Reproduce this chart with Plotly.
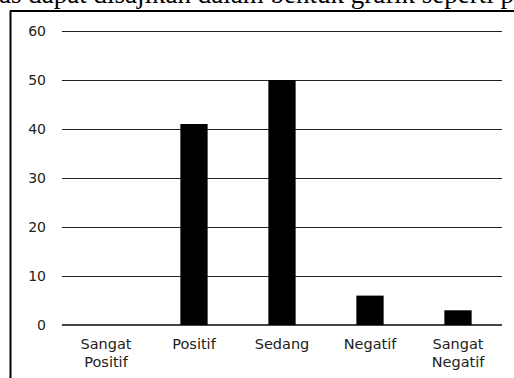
import plotly.graph_objects as go

categories = ["Sangat<br>Positif", "Positif", "Sedang", "Negatif", "Sangat<br>Negatif"]
values = [0, 41, 50, 6, 3]
y_ticks = [0, 10, 20, 30, 40, 50, 60]
caption = "as dapat disajikan dalam bentuk grafik seperti p"

W, H = 514, 378
def px(x):
    return x / W
def py(y):
    return 1 - y / H

fig = go.Figure()
fig.add_trace(go.Bar(x=categories, y=values, marker=dict(color="black", line=dict(width=0)),
                     width=0.31))

font_y = dict(family="DejaVu Sans, sans-serif", size=14, color="#222222")
font_x = dict(family="DejaVu Sans, sans-serif", size=14.5, color="#222222")

fig.update_layout(
    width=W, height=H,
    margin=dict(l=0, r=0, t=0, b=0, autoexpand=False),
    paper_bgcolor="white", plot_bgcolor="white",
    showlegend=False,
    xaxis=dict(domain=[px(62), px(502)], showgrid=False, zeroline=False, automargin=False,
               showline=False, ticks="", tickfont=font_x, ticklabelstandoff=8),
    yaxis=dict(domain=[py(325), py(21.2)], range=[0, 62], tickvals=y_ticks, automargin=False,
               showgrid=True, gridcolor="#222222", gridwidth=1,
               zeroline=True, zerolinecolor="#444444", zerolinewidth=1.5,
               showline=False, ticks="", tickfont=font_y, ticklabelstandoff=15),
    shapes=[
        dict(type="line", xref="paper", yref="paper", x0=px(10.5), x1=px(10.5), y0=py(10.5), y1=0,
             line=dict(color="black", width=2)),
        dict(type="line", xref="paper", yref="paper", x0=px(10), x1=1, y0=py(11), y1=py(11),
             line=dict(color="black", width=2)),
    ],
    annotations=[
        dict(text=caption, xref="paper", yref="paper", x=px(-3), y=py(-5.5), xanchor="left",
             yanchor="middle", showarrow=False,
             font=dict(family="Liberation Serif, Times New Roman, serif", size=27, color="black")),
    ],
)

fig.write_html("out.html")
